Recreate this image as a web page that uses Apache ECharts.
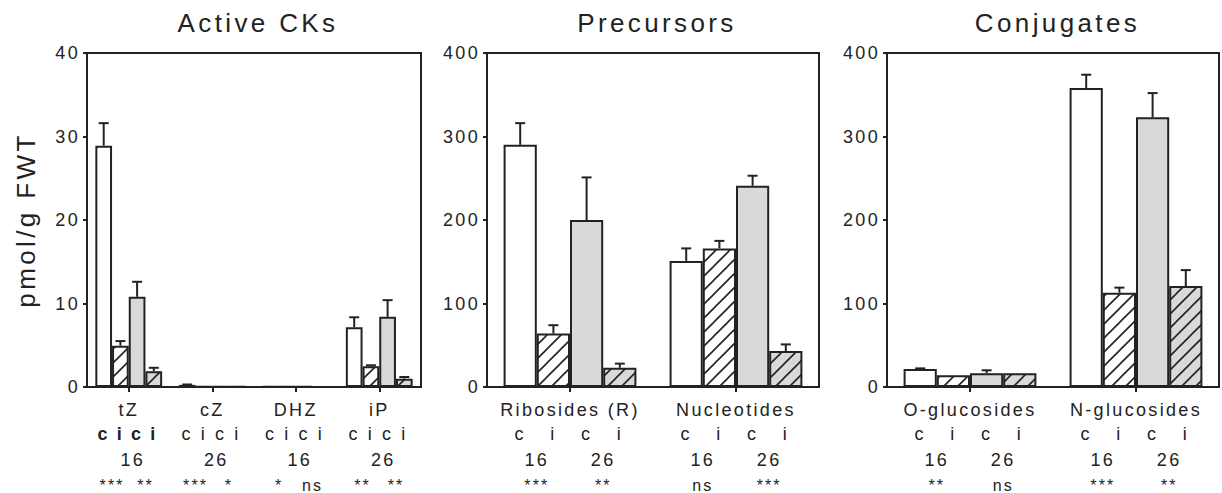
<!DOCTYPE html>
<html>
<head>
<meta charset="utf-8">
<script src="https://cdn.jsdelivr.net/npm/echarts@6/dist/echarts.min.js"></script>
<style>
  body { margin: 0; background: #fff; }
  #chart { width: 1222px; height: 493px; }
  /* the original figure has loose letter spacing everywhere */
  #chart text { letter-spacing: 0.13em; }
</style>
</head>
<body>
<div id="chart"></div>
<script>
// Active CKs
var activeCats = ['tZ', 'cZ', 'DHZ', 'iP'];
var activeC16 = [28.9, 0.25, 0.05, 7.15];
var activeC16Err = [2.7, 0.05, 0, 1.2];
var activeI16 = [4.95, 0.06, 0.03, 2.5];
var activeI16Err = [0.55, 0, 0, 0.1];
var activeC26 = [10.8, 0.06, 0.05, 8.4];
var activeC26Err = [1.8, 0, 0, 2.0];
var activeI26 = [1.9, 0.05, 0.02, 1.0];
var activeI26Err = [0.4, 0, 0, 0.2];
var activeYears = ['16', '26', '16', '26'];
var activeStars = ['***', '**', '***', '*', '*', 'ns', '**', '**'];

// Precursors
var precCats = ['Ribosides (R)', 'Nucleotides'];
var precC16 = [290, 151];
var precC16Err = [26, 15];
var precI16 = [64, 166];
var precI16Err = [10, 9];
var precC26 = [200, 241];
var precC26Err = [51, 12];
var precI26 = [23, 43];
var precI26Err = [5, 8];
var precYears = ['16', '26', '16', '26'];
var precStars = ['***', '**', 'ns', '***'];

// Conjugates
var conjCats = ['O-glucosides', 'N-glucosides'];
var conjC16 = [21.5, 358];
var conjC16Err = [0.8, 16];
var conjI16 = [14, 113];
var conjI16Err = [0, 6];
var conjC26 = [16.4, 323];
var conjC26Err = [3.6, 29];
var conjI26 = [16.4, 121];
var conjI26Err = [0, 19];
var conjYears = ['16', '26', '16', '26'];
var conjStars = ['**', 'ns', '***', '**'];

var barLetters = ['c', 'i', 'c', 'i'];

var FONT = 'Liberation Sans';
var TXT = '#222';
var GREY = '#d9d9d9';

function hatch(bg) {
  var s = 14;
  var c = document.createElement('canvas');
  c.width = s; c.height = s;
  var g = c.getContext('2d');
  g.fillStyle = bg;
  g.fillRect(0, 0, s, s);
  g.strokeStyle = '#222';
  g.lineWidth = 1.6;
  g.beginPath();
  g.moveTo(-s / 2, s / 2); g.lineTo(s / 2, -s / 2);
  g.moveTo(0, s); g.lineTo(s, 0);
  g.moveTo(s / 2, s * 1.5); g.lineTo(s * 1.5, s / 2);
  g.stroke();
  return { image: c, repeat: 'repeat' };
}

var fills = ['#fff', hatch('#fff'), GREY, hatch(GREY)];

var panels = [
  { title: 'Active CKs', left: 87, width: 334, cats: activeCats, max: 40, interval: 10,
    vals: [activeC16, activeI16, activeC26, activeI26],
    errs: [activeC16Err, activeI16Err, activeC26Err, activeI26Err],
    years: activeYears, yearPerCat: true, stars: activeStars, boldCat: 0, yName: 'pmol/g FWT' },
  { title: 'Precursors', left: 487, width: 332, cats: precCats, max: 400, interval: 100,
    vals: [precC16, precI16, precC26, precI26],
    errs: [precC16Err, precI16Err, precC26Err, precI26Err],
    years: precYears, yearPerCat: false, stars: precStars, boldCat: -1, yName: '' },
  { title: 'Conjugates', left: 887, width: 333, cats: conjCats, max: 400, interval: 100,
    vals: [conjC16, conjI16, conjC26, conjI26],
    errs: [conjC16Err, conjI16Err, conjC26Err, conjI26Err],
    years: conjYears, yearPerCat: false, stars: conjStars, boldCat: -1, yName: '' }
];

// helper axis with points every half bar width (5 bar widths per category)
function halfAxis(g, n, data, offset, size) {
  return {
    type: 'category', gridIndex: g, position: 'bottom', offset: offset,
    boundaryGap: false, data: data,
    axisLine: { show: false }, axisTick: { show: false }, splitLine: { show: false },
    axisLabel: { interval: 0, margin: 0, fontSize: size, color: TXT, fontFamily: FONT }
  };
}

function errorRender(params, api) {
  var cat = api.value(0), v = api.value(1), e = api.value(2), k = api.value(3);
  if (!e) return;
  var bw = api.size([1, 0])[0] * 0.2;
  var base = api.coord([cat, v]);
  var top = api.coord([cat, v + e]);
  var x = base[0] + (k - 1.5) * bw;
  var st = { stroke: '#222', lineWidth: 2 };
  return {
    type: 'group',
    children: [
      { type: 'line', shape: { x1: x, y1: base[1], x2: x, y2: top[1] }, style: st },
      { type: 'line', shape: { x1: x - 5, y1: top[1], x2: x + 5, y2: top[1] }, style: st }
    ]
  };
}

var option = {
  animation: false,
  backgroundColor: '#fff',
  textStyle: { fontFamily: FONT, color: TXT },
  title: [], grid: [], xAxis: [], yAxis: [], series: []
};

panels.forEach(function (p, g) {
  var n = p.cats.length;
  option.title.push({
    text: p.title, left: p.left + p.width / 2 + 4, top: 10, textAlign: 'center', padding: 0,
    textStyle: { fontSize: 26, fontWeight: 'normal', color: TXT, fontFamily: FONT }
  });
  option.grid.push({
    left: p.left, top: 53, width: p.width, height: 334,
    show: true, borderColor: '#222', borderWidth: 2, backgroundColor: 'transparent'
  });
  var ax0 = option.xAxis.length;
  option.xAxis.push({
    type: 'category', gridIndex: g, data: p.cats,
    axisLine: { show: true, lineStyle: { color: '#222', width: 2 } },
    axisTick: { show: true, alignWithLabel: true, length: 5, lineStyle: { color: '#222', width: 2 } },
    axisLabel: { interval: 0, margin: 14, fontSize: 18, color: TXT, fontFamily: FONT },
    splitLine: { show: false }
  });
  // c / i row under each bar
  var letters = [];
  for (var i = 0; i <= 10 * n; i++) letters.push('');
  for (var c = 0; c < n; c++) {
    for (var k = 0; k < 4; k++) {
      var idx = 10 * c + 2 + 2 * k;
      letters[idx] = c === p.boldCat ? { value: barLetters[k], textStyle: { fontWeight: 'bold' } } : barLetters[k];
    }
  }
  option.xAxis.push(halfAxis(g, n, letters, 38, 18));
  // year row
  if (p.yearPerCat) {
    option.xAxis.push({
      type: 'category', gridIndex: g, position: 'bottom', offset: 64, data: p.years,
      axisLine: { show: false }, axisTick: { show: false }, splitLine: { show: false },
      axisLabel: { interval: 0, margin: 0, fontSize: 18, color: TXT, fontFamily: FONT, padding: [0, 0, 0, 8] }
    });
  } else {
    var yrs = [];
    for (var i2 = 0; i2 <= 10 * n; i2++) yrs.push('');
    for (var j = 0; j < p.years.length; j++) yrs[10 * Math.floor(j / 2) + 3 + 4 * (j % 2)] = p.years[j];
    option.xAxis.push(halfAxis(g, n, yrs, 64, 18));
  }
  // significance row
  var st = [];
  for (var i3 = 0; i3 <= 10 * n; i3++) st.push('');
  for (var m = 0; m < p.stars.length; m++) st[10 * Math.floor(m / 2) + 3 + 4 * (m % 2)] = p.stars[m];
  option.xAxis.push(halfAxis(g, n, st, 90, 16));

  option.yAxis.push({
    type: 'value', gridIndex: g, min: 0, max: p.max, interval: p.interval,
    name: p.yName, nameLocation: 'middle', nameGap: 48,
    nameTextStyle: { fontSize: 26, color: TXT, fontFamily: FONT },
    axisLine: { show: true, lineStyle: { color: '#222', width: 2 } },
    axisTick: { show: true, length: 4, lineStyle: { color: '#222', width: 2 } },
    axisLabel: { fontSize: 18, color: TXT, margin: 7, fontFamily: FONT },
    splitLine: { show: false }
  });

  var errData = [];
  p.vals.forEach(function (vals, k) {
    option.series.push({
      type: 'bar', xAxisIndex: ax0, yAxisIndex: g, data: vals,
      barGap: '0%', barCategoryGap: '20%',
      itemStyle: { color: fills[k], borderColor: '#222', borderWidth: 2 }
    });
    vals.forEach(function (v, c) { errData.push([c, v, p.errs[k][c], k]); });
  });
  option.series.push({
    type: 'custom', xAxisIndex: ax0, yAxisIndex: g, z: 5,
    renderItem: errorRender, data: errData, encode: { x: 0, y: 1 }
  });
});

var myChart = echarts.init(document.getElementById('chart'), null, { renderer: 'svg' });
myChart.setOption(option);
</script>
</body>
</html>
